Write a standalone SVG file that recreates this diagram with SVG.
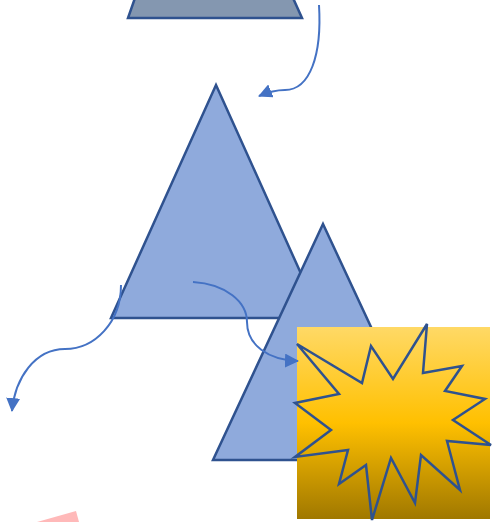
<svg xmlns="http://www.w3.org/2000/svg" width="492" height="522" viewBox="0 0 492 522">
<style>
.shape{stroke:#2F528F;stroke-width:2.5;stroke-linejoin:miter}
.conn{fill:none;stroke:#4472C4;stroke-width:2}
</style>
<defs>
<linearGradient id="gold" x1="0" y1="0" x2="0" y2="1">
<stop offset="0" stop-color="#FFD966"/>
<stop offset="0.5" stop-color="#FFC000"/>
<stop offset="1" stop-color="#A07800"/>
</linearGradient>
<marker id="ah" markerUnits="userSpaceOnUse" markerWidth="14" markerHeight="14" viewBox="0 0 14 14" refX="13" refY="7" orient="auto">
<path d="M0,0 L14,7 L0,14 z" fill="#4472C4"/>
</marker>
</defs>
<g id="trapezoid"><polygon class="shape" points="135,-2 293,-2 302,18 128,18" fill="#8497B0"/></g>
<g id="triangle1"><polygon class="shape" points="216,85 321,318 111,318" fill="#8FAADC"/></g>
<g id="triangle2"><polygon class="shape" points="323,224 433,460 213,460" fill="#8FAADC"/></g>
<g id="square"><rect x="297" y="327" width="193" height="192" fill="url(#gold)"/></g>
<g id="starburst"><polygon class="shape" stroke-width="2" fill="none" points="297,344 362,383 371,346 393,379 427,324 423,373 462,366 445,391 485,399 453,420 491,445 447,441 460,490 421,455 415,503 391,458 372,520 366,465 339,484 348,450 295,457 331,430 295,403 339,394"/></g>
<g id="pink"><polygon points="37,522 76,511 79,522" fill="#FFB9B9"/></g>
<g id="connectors">
<path class="conn" d="M319,5 C322,55 310,90 285,90 C275,90 266,93 259,96" marker-end="url(#ah)"/>
<path class="conn" d="M121,285 C121,322 95,349 65,349 C35,349 15,378 12,411" marker-end="url(#ah)"/>
<path class="conn" d="M193,282 C226,284 247,302 247,322 C247,345 268,360 298,361" marker-end="url(#ah)"/>
</g>
</svg>
